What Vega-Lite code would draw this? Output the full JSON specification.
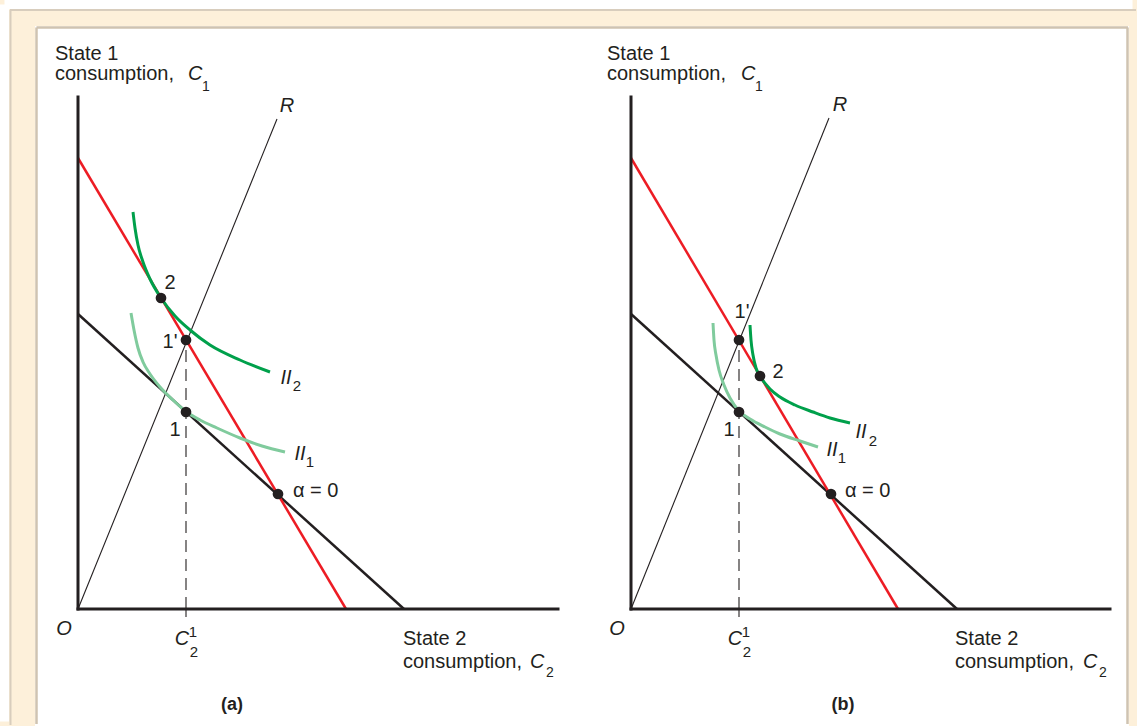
{
  "$schema": "https://vega.github.io/schema/vega-lite/v6.json",
  "background": "#fdf0da",
  "padding": 0,
  "autosize": {"type": "pad"},
  "bounds": "flush",
  "spacing": 0,
  "config": {
    "view": {"fill": "white", "stroke": null},
    "font": "Liberation Sans",
    "text": {"font": "Liberation Sans", "color": "#231f20"}
  },
  "data": {"values": [
    {"panel":"a","type":"band","x":-7.35,"y":60.45,"x2":105.45,"y2":60.45},
    {"panel":"a","type":"band","x":-7.35,"y":60.45,"x2":-7.35,"y2":-11.25},
    {"panel":"a","type":"outer","x":-6.8,"y":59.9,"x2":105.8,"y2":59.9},
    {"panel":"a","type":"outer","x":-6.75,"y":59.9,"x2":-6.75,"y2":-11.6},

    {"panel":"a","type":"seg","kind":"frame","x":-4.15,"y":58.15,"x2":50.4,"y2":58.15},
    {"panel":"a","type":"seg","kind":"frame","x":-4.15,"y":-11.5,"x2":-4.15,"y2":58.15},
    {"panel":"a","type":"seg","kind":"axis","x":0,"y":0,"x2":0,"y2":51.2},
    {"panel":"a","type":"seg","kind":"axis","x":0,"y":0,"x2":48.0,"y2":0},
    {"panel":"a","type":"seg","kind":"ray","x":0,"y":0,"x2":19.9,"y2":49.0},
    {"panel":"a","type":"seg","kind":"tick","x":10.8,"y":-0.8,"x2":10.8,"y2":0},
    {"panel":"a","type":"seg","kind":"guide","x":10.8,"y":0,"x2":10.8,"y2":26.9},
    {"panel":"a","type":"seg","kind":"black","x":0,"y":29.5,"x2":32.6,"y2":0},
    {"panel":"a","type":"seg","kind":"red","x":0,"y":45.1,"x2":26.8,"y2":0},

    {"panel":"b","type":"seg","kind":"frame","x":-4.9,"y":58.15,"x2":49.7,"y2":58.15},
    {"panel":"b","type":"seg","kind":"frame","x":49.65,"y":-11.5,"x2":49.65,"y2":58.15},
    {"panel":"b","type":"seg","kind":"axis","x":0,"y":0,"x2":0,"y2":51.2},
    {"panel":"b","type":"seg","kind":"axis","x":0,"y":0,"x2":47.9,"y2":0},
    {"panel":"b","type":"seg","kind":"ray","x":0,"y":0,"x2":19.8,"y2":49.1},
    {"panel":"b","type":"seg","kind":"tick","x":10.8,"y":-0.8,"x2":10.8,"y2":0},
    {"panel":"b","type":"seg","kind":"guide","x":10.8,"y":0,"x2":10.8,"y2":26.9},
    {"panel":"b","type":"seg","kind":"black","x":0,"y":29.5,"x2":32.6,"y2":0},
    {"panel":"b","type":"seg","kind":"red","x":0,"y":45.1,"x2":26.7,"y2":0},

    {"panel":"a","type":"curve","curve":"II2","x":5.5,"y":39.7},
    {"panel":"a","type":"curve","curve":"II2","x":5.7,"y":38.1},
    {"panel":"a","type":"curve","curve":"II2","x":6.0,"y":36.4},
    {"panel":"a","type":"curve","curve":"II2","x":6.5,"y":34.7},
    {"panel":"a","type":"curve","curve":"II2","x":7.2,"y":33.0},
    {"panel":"a","type":"curve","curve":"II2","x":8.3,"y":31.1},
    {"panel":"a","type":"curve","curve":"II2","x":9.7,"y":29.3},
    {"panel":"a","type":"curve","curve":"II2","x":11.2,"y":27.9},
    {"panel":"a","type":"curve","curve":"II2","x":13.2,"y":26.4},
    {"panel":"a","type":"curve","curve":"II2","x":16.2,"y":24.9},
    {"panel":"a","type":"curve","curve":"II2","x":19.2,"y":23.7},

    {"panel":"a","type":"curve","curve":"II1","x":5.3,"y":29.6},
    {"panel":"a","type":"curve","curve":"II1","x":5.6,"y":27.9},
    {"panel":"a","type":"curve","curve":"II1","x":6.0,"y":26.1},
    {"panel":"a","type":"curve","curve":"II1","x":6.5,"y":24.7},
    {"panel":"a","type":"curve","curve":"II1","x":7.2,"y":23.5},
    {"panel":"a","type":"curve","curve":"II1","x":8.2,"y":22.2},
    {"panel":"a","type":"curve","curve":"II1","x":9.5,"y":20.9},
    {"panel":"a","type":"curve","curve":"II1","x":10.8,"y":19.75},
    {"panel":"a","type":"curve","curve":"II1","x":12.2,"y":18.9},
    {"panel":"a","type":"curve","curve":"II1","x":13.9,"y":18.1},
    {"panel":"a","type":"curve","curve":"II1","x":16.2,"y":17.1},
    {"panel":"a","type":"curve","curve":"II1","x":18.4,"y":16.3},
    {"panel":"a","type":"curve","curve":"II1","x":20.7,"y":15.7},

    {"panel":"b","type":"curve","curve":"II2","x":11.9,"y":28.4},
    {"panel":"b","type":"curve","curve":"II2","x":12.0,"y":26.9},
    {"panel":"b","type":"curve","curve":"II2","x":12.2,"y":25.4},
    {"panel":"b","type":"curve","curve":"II2","x":12.5,"y":24.1},
    {"panel":"b","type":"curve","curve":"II2","x":12.9,"y":23.3},
    {"panel":"b","type":"curve","curve":"II2","x":13.9,"y":22.0},
    {"panel":"b","type":"curve","curve":"II2","x":14.9,"y":21.2},
    {"panel":"b","type":"curve","curve":"II2","x":16.4,"y":20.4},
    {"panel":"b","type":"curve","curve":"II2","x":18.2,"y":19.7},
    {"panel":"b","type":"curve","curve":"II2","x":19.9,"y":19.1},
    {"panel":"b","type":"curve","curve":"II2","x":21.9,"y":18.6},

    {"panel":"b","type":"curve","curve":"II1","x":8.2,"y":28.6},
    {"panel":"b","type":"curve","curve":"II1","x":8.3,"y":26.9},
    {"panel":"b","type":"curve","curve":"II1","x":8.5,"y":25.4},
    {"panel":"b","type":"curve","curve":"II1","x":8.8,"y":23.9},
    {"panel":"b","type":"curve","curve":"II1","x":9.3,"y":22.4},
    {"panel":"b","type":"curve","curve":"II1","x":9.9,"y":21.1},
    {"panel":"b","type":"curve","curve":"II1","x":10.8,"y":19.8},
    {"panel":"b","type":"curve","curve":"II1","x":11.9,"y":19.0},
    {"panel":"b","type":"curve","curve":"II1","x":13.4,"y":18.2},
    {"panel":"b","type":"curve","curve":"II1","x":14.9,"y":17.5},
    {"panel":"b","type":"curve","curve":"II1","x":16.9,"y":16.8},
    {"panel":"b","type":"curve","curve":"II1","x":18.7,"y":16.2},

    {"panel":"a","type":"pt","name":"2","x":8.3,"y":31.1},
    {"panel":"a","type":"pt","name":"1'","x":10.8,"y":26.9},
    {"panel":"a","type":"pt","name":"1","x":10.8,"y":19.7},
    {"panel":"a","type":"pt","name":"alpha0","x":20.0,"y":11.5},
    {"panel":"b","type":"pt","name":"1'","x":10.8,"y":26.9},
    {"panel":"b","type":"pt","name":"2","x":12.9,"y":23.3},
    {"panel":"b","type":"pt","name":"1","x":10.8,"y":19.7},
    {"panel":"b","type":"pt","name":"alpha0","x":20.0,"y":11.5},

    {"panel":"a","type":"lab","role":"title","text":"State 1","x":-2.3,"y":54.9},
    {"panel":"a","type":"lab","role":"title","text":"consumption,","x":-2.3,"y":52.9},
    {"panel":"a","type":"lab","role":"title","text":"State 2","x":32.5,"y":-3.6},
    {"panel":"a","type":"lab","role":"title","text":"consumption,","x":32.5,"y":-5.9},
    {"panel":"a","type":"lab","role":"titlevar","text":"C","x":11.0,"y":52.9},
    {"panel":"a","type":"lab","role":"titlevar","text":"C","x":45.2,"y":-5.9},
    {"panel":"a","type":"lab","role":"titlesub","text":"1","x":12.4,"y":51.8},
    {"panel":"a","type":"lab","role":"titlesub","text":"2","x":46.8,"y":-6.8},
    {"panel":"a","type":"lab","role":"mark","text":"2","x":9.2,"y":32.6},
    {"panel":"a","type":"lab","role":"mark","text":"1'","x":9.2,"y":26.7},
    {"panel":"a","type":"lab","role":"mark","text":"1","x":9.7,"y":17.9},
    {"panel":"a","type":"lab","role":"note","text":"α = 0","x":21.5,"y":11.8},
    {"panel":"a","type":"lab","role":"var","text":"R","x":20.9,"y":50.3},
    {"panel":"a","type":"lab","role":"var","text":"O","x":-1.4,"y":-2.0},
    {"panel":"a","type":"lab","role":"var","text":"C","x":10.4,"y":-3.0},
    {"panel":"a","type":"lab","role":"var","text":"II","x":20.8,"y":23.1},
    {"panel":"a","type":"lab","role":"var","text":"II","x":22.2,"y":15.5},
    {"panel":"a","type":"lab","role":"sub","text":"1","x":11.5,"y":-2.3},
    {"panel":"a","type":"lab","role":"sub","text":"2","x":11.6,"y":-4.3},
    {"panel":"a","type":"lab","role":"sub","text":"2","x":21.9,"y":22.3},
    {"panel":"a","type":"lab","role":"sub","text":"1","x":23.2,"y":14.7},
    {"panel":"a","type":"lab","role":"panel","text":"(a)","x":15.4,"y":-9.6},

    {"panel":"b","type":"lab","role":"title","text":"State 1","x":-2.4,"y":54.9},
    {"panel":"b","type":"lab","role":"title","text":"consumption,","x":-2.4,"y":52.9},
    {"panel":"b","type":"lab","role":"title","text":"State 2","x":32.4,"y":-3.6},
    {"panel":"b","type":"lab","role":"title","text":"consumption,","x":32.4,"y":-5.9},
    {"panel":"b","type":"lab","role":"titlevar","text":"C","x":11.0,"y":52.9},
    {"panel":"b","type":"lab","role":"titlevar","text":"C","x":45.2,"y":-5.9},
    {"panel":"b","type":"lab","role":"titlesub","text":"1","x":12.4,"y":51.8},
    {"panel":"b","type":"lab","role":"titlesub","text":"2","x":46.8,"y":-6.8},
    {"panel":"b","type":"lab","role":"mark","text":"1'","x":11.1,"y":29.7},
    {"panel":"b","type":"lab","role":"mark","text":"2","x":14.7,"y":23.7},
    {"panel":"b","type":"lab","role":"mark","text":"1","x":9.8,"y":17.9},
    {"panel":"b","type":"lab","role":"note","text":"α = 0","x":21.4,"y":11.8},
    {"panel":"b","type":"lab","role":"var","text":"R","x":20.9,"y":50.4},
    {"panel":"b","type":"lab","role":"var","text":"O","x":-1.4,"y":-2.0},
    {"panel":"b","type":"lab","role":"var","text":"C","x":10.4,"y":-3.0},
    {"panel":"b","type":"lab","role":"var","text":"II","x":23.0,"y":17.7},
    {"panel":"b","type":"lab","role":"var","text":"II","x":20.1,"y":15.9},
    {"panel":"b","type":"lab","role":"sub","text":"1","x":11.5,"y":-2.3},
    {"panel":"b","type":"lab","role":"sub","text":"2","x":11.6,"y":-4.3},
    {"panel":"b","type":"lab","role":"sub","text":"2","x":24.2,"y":16.8},
    {"panel":"b","type":"lab","role":"sub","text":"1","x":21.1,"y":15.1},
    {"panel":"b","type":"lab","role":"panel","text":"(b)","x":21.2,"y":-9.6}
  ]},
  "hconcat": [
    {
      "transform": [{"filter": "datum.panel === 'a'"}],
      "width": 547,
      "height": 700,
      "encoding": {
        "x": {"field": "x", "type": "quantitative", "scale": {"domain": [-4.3, 50.4], "nice": false, "zero": false}, "axis": null},
        "y": {"field": "y", "type": "quantitative", "scale": {"domain": [-11.7, 58.3], "nice": false, "zero": false}, "axis": null}
      },
      "layer": [
        {"transform": [{"filter": "datum.type === 'band'"}], "mark": {"type": "rule", "color": "#ffffff", "strokeWidth": 9}, "encoding": {"x2": {"field": "x2"}, "y2": {"field": "y2"}}},
        {"transform": [{"filter": "datum.type === 'outer'"}], "mark": {"type": "rule", "color": "#d8cdbd", "strokeWidth": 2}, "encoding": {"x2": {"field": "x2"}, "y2": {"field": "y2"}}},
        {"transform": [{"filter": "datum.type === 'seg' && datum.kind === 'frame'"}], "mark": {"type": "rule", "color": "#cfc3b1", "strokeWidth": 2.5}, "encoding": {"x2": {"field": "x2"}, "y2": {"field": "y2"}}},
        {"transform": [{"filter": "datum.type === 'seg' && (datum.kind === 'ray' || datum.kind === 'tick')"}], "mark": {"type": "rule", "color": "#231f20", "strokeWidth": 1.1}, "encoding": {"x2": {"field": "x2"}, "y2": {"field": "y2"}}},
        {"transform": [{"filter": "datum.type === 'seg' && datum.kind === 'guide'"}], "mark": {"type": "rule", "color": "#231f20", "strokeWidth": 1.1, "strokeDash": [12, 7]}, "encoding": {"x2": {"field": "x2"}, "y2": {"field": "y2"}}},
        {"transform": [{"filter": "datum.type === 'seg' && datum.kind === 'black'"}], "mark": {"type": "rule", "color": "#231f20", "strokeWidth": 2.5}, "encoding": {"x2": {"field": "x2"}, "y2": {"field": "y2"}}},
        {"transform": [{"filter": "datum.type === 'seg' && datum.kind === 'red'"}], "mark": {"type": "rule", "color": "#ed1c24", "strokeWidth": 2.5}, "encoding": {"x2": {"field": "x2"}, "y2": {"field": "y2"}}},
        {"transform": [{"filter": "datum.type === 'seg' && datum.kind === 'axis'"}], "mark": {"type": "rule", "color": "#231f20", "strokeWidth": 3, "strokeCap": "square"}, "encoding": {"x2": {"field": "x2"}, "y2": {"field": "y2"}}},
        {"transform": [{"filter": "datum.type === 'curve' && datum.curve === 'II1'"}], "mark": {"type": "line", "strokeWidth": 3, "interpolate": "monotone", "color": "#80cb9d"}, "encoding": {}},
        {"transform": [{"filter": "datum.type === 'curve' && datum.curve === 'II2'"}], "mark": {"type": "line", "strokeWidth": 3, "interpolate": "monotone", "color": "#00a04b"}, "encoding": {}},
        {"transform": [{"filter": "datum.type === 'pt'"}], "mark": {"type": "point", "filled": true, "size": 115, "color": "#231f20", "opacity": 1, "strokeWidth": 0}},
        {"transform": [{"filter": "datum.type === 'lab' && datum.role === 'title'"}], "mark": {"type": "text", "fontSize": 20, "align": "left", "baseline": "alphabetic"}, "encoding": {"text": {"field": "text"}}},
        {"transform": [{"filter": "datum.type === 'lab' && datum.role === 'titlevar'"}], "mark": {"type": "text", "fontSize": 20, "fontStyle": "italic", "align": "left", "baseline": "alphabetic"}, "encoding": {"text": {"field": "text"}}},
        {"transform": [{"filter": "datum.type === 'lab' && datum.role === 'titlesub'"}], "mark": {"type": "text", "fontSize": 14, "align": "left", "baseline": "alphabetic"}, "encoding": {"text": {"field": "text"}}},
        {"transform": [{"filter": "datum.type === 'lab' && datum.role === 'mark'"}], "mark": {"type": "text", "fontSize": 20, "align": "center", "baseline": "middle"}, "encoding": {"text": {"field": "text"}}},
        {"transform": [{"filter": "datum.type === 'lab' && datum.role === 'note'"}], "mark": {"type": "text", "fontSize": 20, "align": "left", "baseline": "middle"}, "encoding": {"text": {"field": "text"}}},
        {"transform": [{"filter": "datum.type === 'lab' && datum.role === 'var'"}], "mark": {"type": "text", "fontSize": 20, "fontStyle": "italic", "align": "center", "baseline": "middle"}, "encoding": {"text": {"field": "text"}}},
        {"transform": [{"filter": "datum.type === 'lab' && datum.role === 'sub'"}], "mark": {"type": "text", "fontSize": 15, "align": "center", "baseline": "middle"}, "encoding": {"text": {"field": "text"}}},
        {"transform": [{"filter": "datum.type === 'lab' && datum.role === 'panel'"}], "mark": {"type": "text", "fontSize": 18, "fontWeight": "bold", "align": "center", "baseline": "middle"}, "encoding": {"text": {"field": "text"}}}
      ]
    },
    {
      "transform": [{"filter": "datum.panel === 'b'"}],
      "width": 547,
      "height": 700,
      "encoding": {
        "x": {"field": "x", "type": "quantitative", "scale": {"domain": [-4.9, 49.8], "nice": false, "zero": false}, "axis": null},
        "y": {"field": "y", "type": "quantitative", "scale": {"domain": [-11.7, 58.3], "nice": false, "zero": false}, "axis": null}
      },
      "layer": [
        {"transform": [{"filter": "datum.type === 'seg' && datum.kind === 'frame'"}], "mark": {"type": "rule", "color": "#cfc3b1", "strokeWidth": 2.5}, "encoding": {"x2": {"field": "x2"}, "y2": {"field": "y2"}}},
        {"transform": [{"filter": "datum.type === 'seg' && (datum.kind === 'ray' || datum.kind === 'tick')"}], "mark": {"type": "rule", "color": "#231f20", "strokeWidth": 1.1}, "encoding": {"x2": {"field": "x2"}, "y2": {"field": "y2"}}},
        {"transform": [{"filter": "datum.type === 'seg' && datum.kind === 'guide'"}], "mark": {"type": "rule", "color": "#231f20", "strokeWidth": 1.1, "strokeDash": [12, 7]}, "encoding": {"x2": {"field": "x2"}, "y2": {"field": "y2"}}},
        {"transform": [{"filter": "datum.type === 'seg' && datum.kind === 'black'"}], "mark": {"type": "rule", "color": "#231f20", "strokeWidth": 2.5}, "encoding": {"x2": {"field": "x2"}, "y2": {"field": "y2"}}},
        {"transform": [{"filter": "datum.type === 'seg' && datum.kind === 'red'"}], "mark": {"type": "rule", "color": "#ed1c24", "strokeWidth": 2.5}, "encoding": {"x2": {"field": "x2"}, "y2": {"field": "y2"}}},
        {"transform": [{"filter": "datum.type === 'seg' && datum.kind === 'axis'"}], "mark": {"type": "rule", "color": "#231f20", "strokeWidth": 3, "strokeCap": "square"}, "encoding": {"x2": {"field": "x2"}, "y2": {"field": "y2"}}},
        {"transform": [{"filter": "datum.type === 'curve' && datum.curve === 'II1'"}], "mark": {"type": "line", "strokeWidth": 3, "interpolate": "monotone", "color": "#80cb9d"}, "encoding": {}},
        {"transform": [{"filter": "datum.type === 'curve' && datum.curve === 'II2'"}], "mark": {"type": "line", "strokeWidth": 3, "interpolate": "monotone", "color": "#00a04b"}, "encoding": {}},
        {"transform": [{"filter": "datum.type === 'pt'"}], "mark": {"type": "point", "filled": true, "size": 115, "color": "#231f20", "opacity": 1, "strokeWidth": 0}},
        {"transform": [{"filter": "datum.type === 'lab' && datum.role === 'title'"}], "mark": {"type": "text", "fontSize": 20, "align": "left", "baseline": "alphabetic"}, "encoding": {"text": {"field": "text"}}},
        {"transform": [{"filter": "datum.type === 'lab' && datum.role === 'titlevar'"}], "mark": {"type": "text", "fontSize": 20, "fontStyle": "italic", "align": "left", "baseline": "alphabetic"}, "encoding": {"text": {"field": "text"}}},
        {"transform": [{"filter": "datum.type === 'lab' && datum.role === 'titlesub'"}], "mark": {"type": "text", "fontSize": 14, "align": "left", "baseline": "alphabetic"}, "encoding": {"text": {"field": "text"}}},
        {"transform": [{"filter": "datum.type === 'lab' && datum.role === 'mark'"}], "mark": {"type": "text", "fontSize": 20, "align": "center", "baseline": "middle"}, "encoding": {"text": {"field": "text"}}},
        {"transform": [{"filter": "datum.type === 'lab' && datum.role === 'note'"}], "mark": {"type": "text", "fontSize": 20, "align": "left", "baseline": "middle"}, "encoding": {"text": {"field": "text"}}},
        {"transform": [{"filter": "datum.type === 'lab' && datum.role === 'var'"}], "mark": {"type": "text", "fontSize": 20, "fontStyle": "italic", "align": "center", "baseline": "middle"}, "encoding": {"text": {"field": "text"}}},
        {"transform": [{"filter": "datum.type === 'lab' && datum.role === 'sub'"}], "mark": {"type": "text", "fontSize": 15, "align": "center", "baseline": "middle"}, "encoding": {"text": {"field": "text"}}},
        {"transform": [{"filter": "datum.type === 'lab' && datum.role === 'panel'"}], "mark": {"type": "text", "fontSize": 18, "fontWeight": "bold", "align": "center", "baseline": "middle"}, "encoding": {"text": {"field": "text"}}}
      ]
    }
  ]
}
